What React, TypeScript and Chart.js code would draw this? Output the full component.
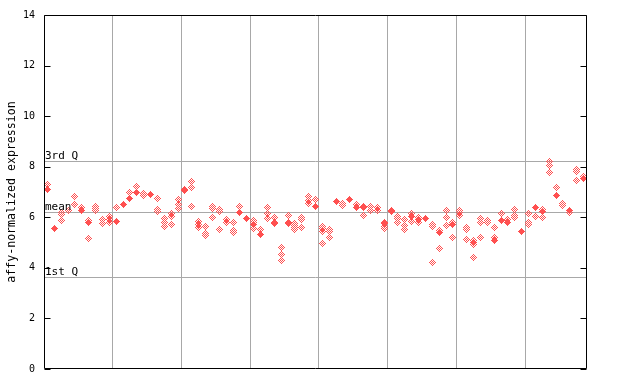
import React, { useEffect, useRef } from 'react';
import { Chart, registerables } from 'chart.js';

Chart.register(...registerables);

const sampleCount = 79;
const groupSize = 10;

// hollow-diamond replicate values, one list per sample (left to right)
const hollowValues: number[][] = [
  [7.28], [], [6.18, 6.1, 5.87], [6.26], [6.81, 6.5], [6.37], [5.89, 5.18], [6.42, 6.34, 6.26], [5.93, 5.74], [6.05, 5.9, 5.81],
  [6.37], [], [7.0], [7.2], [6.94, 6.86], [], [6.76, 6.31, 6.24], [5.97, 5.81, 5.62], [6.13, 6.05, 5.71], [6.72, 6.52, 6.33],
  [7.11, 7.04], [7.43, 7.19, 6.44], [5.85, 5.7, 5.58], [5.62, 5.34, 5.26], [6.41, 6.33, 6.01], [6.29, 6.21, 5.5], [5.93, 5.78], [5.78, 5.46, 5.38], [6.44], [],
  [5.89, 5.81, 5.54], [5.5], [6.37, 6.13, 5.97], [6.01, 5.81, 5.74], [4.79, 4.51, 4.28], [6.09, 5.81, 5.74], [5.74, 5.66, 5.58, 5.5], [6.01, 5.93, 5.58], [6.84, 6.68, 6.56], [6.72],
  [5.62, 5.54, 5.42, 4.95], [5.5, 5.42, 5.22], [], [6.56, 6.48], [], [6.52], [6.44, 6.37, 6.09], [6.44, 6.25], [6.37, 6.25], [5.81, 5.62, 5.54],
  [6.28, 6.22], [6.05, 5.97, 5.78], [5.93, 5.66, 5.5], [6.13, 5.85], [6.01, 5.81], [], [5.7, 5.62, 4.2], [5.46, 4.75], [6.25, 6.01, 5.66], [5.78, 5.22],
  [6.25, 6.17, 6.09], [5.58, 5.5, 5.11], [5.07, 4.91, 4.4], [5.97, 5.81, 5.22], [5.89, 5.81], [5.58, 5.22], [6.13], [5.93], [6.29, 6.09, 6.01], [],
  [6.13, 5.78, 5.7], [6.05], [6.29, 6.01], [8.22, 8.06, 7.78], [7.19], [6.56, 6.48], [6.17], [7.9, 7.82, 7.47], [7.62],
];

// filled-diamond value per sample (null = none)
const filledValues: (number | null)[] = [
  7.09, 5.54, null, null, null, 6.26, 5.81, null, null, null,
  5.85, 6.52, 6.73, 7.0, null, 6.89, null, null, null, null,
  null, null, null, null, null, null, null, null, 6.18, 5.94,
  5.7, 5.33, null, null, null, null, null, null, null, 6.44,
  null, null, 6.64, null, 6.72, 6.37, null, null, null, 5.74,
  null, null, null, 6.05, 5.93, 5.94, null, 5.38, null, 5.7,
  null, null, 4.99, null, null, 5.1, 5.89, 5.81, null, 5.42,
  null, 6.37, 6.21, null, 6.88, null, 6.25, null, 7.55,
];

const yTickValues = [0, 2, 4, 6, 8, 10, 12, 14];
const quartileLabels = ['3rd Q', 'mean', '1st Q'];
const quartileValues = [8.22, 6.22, 3.62];

const RED = '#ff5050';
const GRID = '#a8a8a8';
const MONO = '"DejaVu Sans Mono", "Liberation Mono", monospace';

function makeDiamond(hollow: boolean): HTMLCanvasElement {
  const c = document.createElement('canvas');
  c.width = 7;
  c.height = 7;
  const g = c.getContext('2d')!;
  g.fillStyle = RED;
  for (let py = 0; py < 7; py++) {
    for (let px = 0; px < 7; px++) {
      const d = Math.abs(px - 3) + Math.abs(py - 3);
      if (d > 3) continue;
      if (hollow && d % 2 === 0) continue;
      g.fillRect(px, py, 1, 1);
    }
  }
  return c;
}

const decorPlugin = {
  id: 'decor',
  beforeDatasetsDraw(chart: any) {
    const { ctx, chartArea } = chart;
    const y = chart.scales.y;
    ctx.save();
    ctx.strokeStyle = GRID;
    ctx.lineWidth = 1;
    quartileValues.forEach((v) => {
      const py = Math.round(y.getPixelForValue(v)) + 0.5;
      ctx.beginPath();
      ctx.moveTo(chartArea.left, py);
      ctx.lineTo(chartArea.right, py);
      ctx.stroke();
    });
    ctx.restore();
    ctx.imageSmoothingEnabled = false;
  },
  afterDatasetsDraw(chart: any) {
    const { ctx, chartArea } = chart;
    const y = chart.scales.y;
    ctx.save();
    ctx.strokeStyle = '#000';
    ctx.lineWidth = 1;
    const l = Math.round(chartArea.left) + 0.5;
    const r = Math.round(chartArea.right) - 0.5;
    const t = Math.round(chartArea.top) + 0.5;
    const b = Math.round(chartArea.bottom) - 0.5;
    ctx.beginPath();
    ctx.moveTo(l, t);
    ctx.lineTo(r, t);
    ctx.lineTo(r, b);
    ctx.lineTo(l, b);
    ctx.closePath();
    ctx.stroke();
    yTickValues.forEach((v) => {
      const py = Math.round(y.getPixelForValue(v)) + 0.5;
      ctx.beginPath();
      ctx.moveTo(l, py);
      ctx.lineTo(l + 6, py);
      ctx.moveTo(r - 6, py);
      ctx.lineTo(r, py);
      ctx.stroke();
    });
    ctx.fillStyle = '#000';
    ctx.font = `11px ${MONO}`;
    ctx.textAlign = 'left';
    ctx.textBaseline = 'alphabetic';
    quartileValues.forEach((v, i) => {
      const py = Math.round(y.getPixelForValue(v));
      ctx.fillText(quartileLabels[i], chartArea.left + 1, py - 2);
    });
    ctx.restore();
  },
};

export default function App() {
  const ref = useRef<HTMLCanvasElement | null>(null);

  useEffect(() => {
    if (!ref.current) return;
    const hollowSprite = makeDiamond(true);
    const filledSprite = makeDiamond(false);
    const hollowPoints = hollowValues.flatMap((vals, i) => vals.map((v) => ({ x: i + 0.5, y: v })));
    const filledPoints = filledValues
      .map((v, i) => (v == null ? null : { x: i + 0.5, y: v }))
      .filter((p) => p !== null) as { x: number; y: number }[];

    const chart = new Chart(ref.current, {
      type: 'scatter',
      data: {
        datasets: [
          {
            data: filledPoints,
            pointStyle: filledSprite as any,
            pointRadius: 3.5,
            order: 1,
          },
          {
            data: hollowPoints,
            pointStyle: hollowSprite as any,
            pointRadius: 3.5,
            order: 2,
          },
        ],
      },
      options: {
        responsive: false,
        animation: false,
        events: [],
        layout: { padding: { left: 0, top: 13, right: 53, bottom: 15 } },
        plugins: { legend: { display: false }, tooltip: { enabled: false } },
        scales: {
          x: {
            type: 'linear',
            min: 0,
            max: sampleCount,
            ticks: { display: false, stepSize: groupSize },
            grid: {
              drawTicks: false,
              color: (c: any) => {
                const v = c.tick ? c.tick.value : 0;
                return v > 0 && v < sampleCount && v % groupSize === 0 ? GRID : 'rgba(0,0,0,0)';
              },
            },
            border: { display: false },
            afterFit: (s: any) => {
              s.height = 0;
            },
          },
          y: {
            min: 0,
            max: 14,
            afterBuildTicks: (s: any) => {
              s.ticks = yTickValues.map((v) => ({ value: v }));
            },
            ticks: {
              color: '#000',
              padding: 9,
              font: { family: MONO, size: 10 },
            },
            grid: { display: false, drawTicks: false },
            border: { display: false },
            title: {
              display: true,
              text: 'affy-normalized expression',
              color: '#000',
              font: { family: MONO, size: 11.6 },
              padding: { top: 5, bottom: 0 },
            },
            afterFit: (s: any) => {
              s.width = 44;
            },
          },
        },
      },
      plugins: [decorPlugin],
    });
    return () => chart.destroy();
  }, []);

  return (
    <div style={{ position: 'fixed', left: 0, top: 0, width: 640, height: 384, background: '#fff' }}>
      <canvas ref={ref} width={640} height={384} style={{ display: 'block', width: 640, height: 384 }} />
    </div>
  );
}
